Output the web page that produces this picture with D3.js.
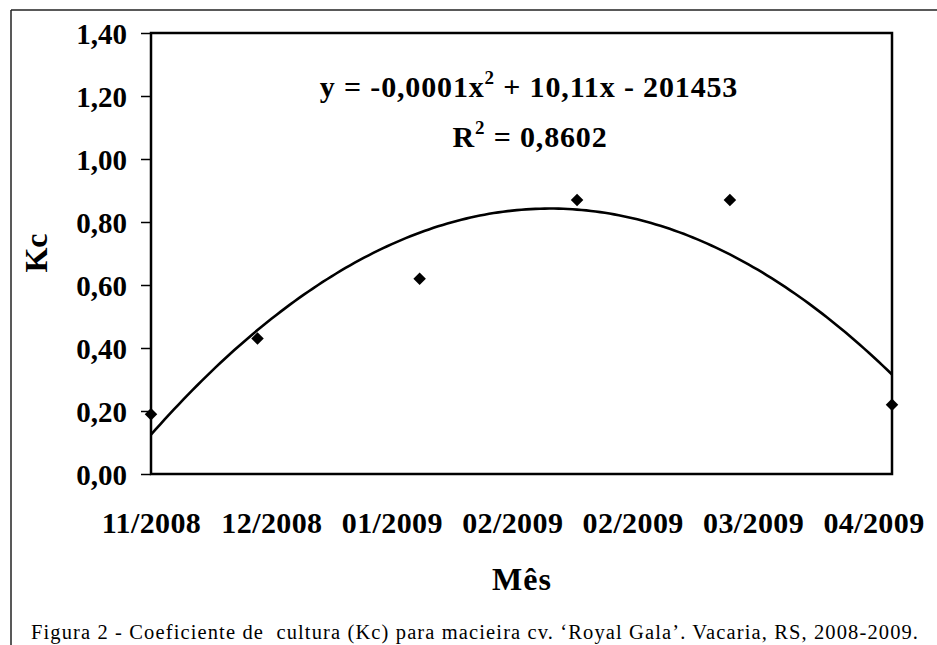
<!DOCTYPE html>
<html>
<head>
<meta charset="utf-8">
<script src="https://cdn.jsdelivr.net/npm/d3@7"></script>
<style>
  html, body { margin: 0; padding: 0; background: #fff; }
  svg { display: block; }
  text { font-family: "Liberation Serif", "Times New Roman", serif; fill: #000; }
</style>
</head>
<body>
<svg id="chart" width="937" height="645"></svg>
<script>
// ---- data ----
const dayOffsets = [0, 23, 58, 92, 125, 160];           // days after 15/11/2008
const kcValues   = [0.19, 0.43, 0.62, 0.87, 0.87, 0.22];
const xTickDays   = [0, 26, 52, 78, 104, 130, 156];
const xTickLabels = ["11/2008", "12/2008", "01/2009", "02/2009", "02/2009", "03/2009", "04/2009"];
const yTickValues = [0, 0.2, 0.4, 0.6, 0.8, 1.0, 1.2, 1.4];
const equationText = ["y = -0,0001x", "2", " + 10,11x - 201453"];
const r2Text = ["R", "2", " = 0,8602"];
const yTitle = "Kc";
const xTitle = "Mês";
const caption = "Figura 2 - Coeficiente de  cultura (Kc) para macieira cv. \u2018Royal Gala\u2019. Vacaria, RS, 2008-2009.";

// ---- layout ----
const svg = d3.select("#chart");
const L = 151, R = 892, T = 33, B = 474;

const x = d3.scaleLinear().domain([0, 160]).range([L, R]);
const y = d3.scaleLinear().domain([0, 1.4]).range([B, T]);

const locale = d3.formatLocale({decimal: ",", thousands: ".", grouping: [3], currency: ["", ""]});
const fmt = locale.format(".2f");

// outer frame
svg.append("line").attr("x1", 11).attr("y1", 10).attr("x2", 937).attr("y2", 10)
  .attr("stroke", "#222").attr("stroke-width", 1.5);
svg.append("line").attr("x1", 11).attr("y1", 10).attr("x2", 11).attr("y2", 645)
  .attr("stroke", "#222").attr("stroke-width", 1.5);

// y axis
const yAxis = d3.axisLeft(y).tickValues(yTickValues).tickSize(10).tickPadding(14).tickFormat(fmt);
const gy = svg.append("g").attr("transform", `translate(${L},0)`).call(yAxis);
gy.select(".domain").remove();
gy.selectAll(".tick line").attr("stroke", "#000").attr("stroke-width", 1.5);
gy.selectAll(".tick text")
  .attr("font-weight", "bold").attr("font-size", 29).attr("fill", "#000")
  .attr("dy", "0.36em");

// x axis
const xAxis = d3.axisBottom(x).tickValues(xTickDays).tickSize(0).tickPadding(0)
  .tickFormat((d, i) => xTickLabels[i]);
const gx = svg.append("g").attr("transform", `translate(0,${B})`).call(xAxis);
gx.select(".domain").remove();
gx.selectAll(".tick text")
  .attr("font-weight", "bold").attr("font-size", 30).attr("fill", "#000")
  .attr("letter-spacing", 0.4)
  .attr("y", 59).attr("dy", 0);

// plot frame
svg.append("rect").attr("x", L).attr("y", T).attr("width", R - L).attr("height", B - T)
  .attr("fill", "none").attr("stroke", "#000").attr("stroke-width", 2.5);

// quadratic least-squares trend line fitted to the data
function fitQuadratic(xs, ys) {
  const n = xs.length;
  let s = [0, 0, 0, 0, 0], t = [0, 0, 0];
  for (let i = 0; i < n; i++) {
    const u = xs[i];
    for (let k = 0; k < 5; k++) s[k] += Math.pow(u, k);
    for (let k = 0; k < 3; k++) t[k] += ys[i] * Math.pow(u, k);
  }
  const M = [[s[0], s[1], s[2], t[0]], [s[1], s[2], s[3], t[1]], [s[2], s[3], s[4], t[2]]];
  for (let i = 0; i < 3; i++) {
    let p = i;
    for (let r = i + 1; r < 3; r++) if (Math.abs(M[r][i]) > Math.abs(M[p][i])) p = r;
    [M[i], M[p]] = [M[p], M[i]];
    for (let r = 0; r < 3; r++) {
      if (r === i) continue;
      const f = M[r][i] / M[i][i];
      for (let c = i; c < 4; c++) M[r][c] -= f * M[i][c];
    }
  }
  return [M[0][3] / M[0][0], M[1][3] / M[1][1], M[2][3] / M[2][2]];
}
const coef = fitQuadratic(dayOffsets, kcValues);
const trend = d3.range(0, 160.01, 1).map(d => [d, coef[0] + coef[1] * d + coef[2] * d * d]);
svg.append("path").datum(trend)
  .attr("d", d3.line().x(d => x(d[0])).y(d => y(d[1])))
  .attr("fill", "none").attr("stroke", "#000").attr("stroke-width", 2.6)
  .attr("stroke-linejoin", "round");

// data markers
svg.selectAll(".pt").data(dayOffsets).enter().append("path")
  .attr("class", "pt")
  .attr("transform", (d, i) => `translate(${x(d)},${y(kcValues[i])})`)
  .attr("d", d3.symbol().type(d3.symbolDiamond2).size(100))
  .attr("fill", "#000");

// equation text
const eq = svg.append("text").attr("x", 529).attr("y", 97).attr("text-anchor", "middle")
  .attr("font-weight", "bold").attr("font-size", 30).attr("letter-spacing", 0.85);
eq.append("tspan").text(equationText[0]);
eq.append("tspan").attr("dy", -13).attr("font-size", 19).text(equationText[1]);
eq.append("tspan").attr("dy", 13).text(equationText[2]);

const r2 = svg.append("text").attr("x", 530).attr("y", 147).attr("text-anchor", "middle")
  .attr("font-weight", "bold").attr("font-size", 30).attr("letter-spacing", 0.85);
r2.append("tspan").text(r2Text[0]);
r2.append("tspan").attr("dy", -13).attr("font-size", 19).text(r2Text[1]);
r2.append("tspan").attr("dy", 13).text(r2Text[2]);

// axis titles
svg.append("text").attr("transform", "translate(47,253) rotate(-90)")
  .attr("text-anchor", "middle").attr("font-weight", "bold").attr("font-size", 32).text(yTitle);
svg.append("text").attr("x", 522).attr("y", 590).attr("text-anchor", "middle")
  .attr("font-weight", "bold").attr("font-size", 32).attr("letter-spacing", 1).text(xTitle);

// caption
svg.append("text").attr("x", 31).attr("y", 639).attr("font-size", 20.5)
  .attr("textLength", 887).attr("lengthAdjust", "spacing")
  .style("white-space", "pre").text(caption);
</script>
</body>
</html>
